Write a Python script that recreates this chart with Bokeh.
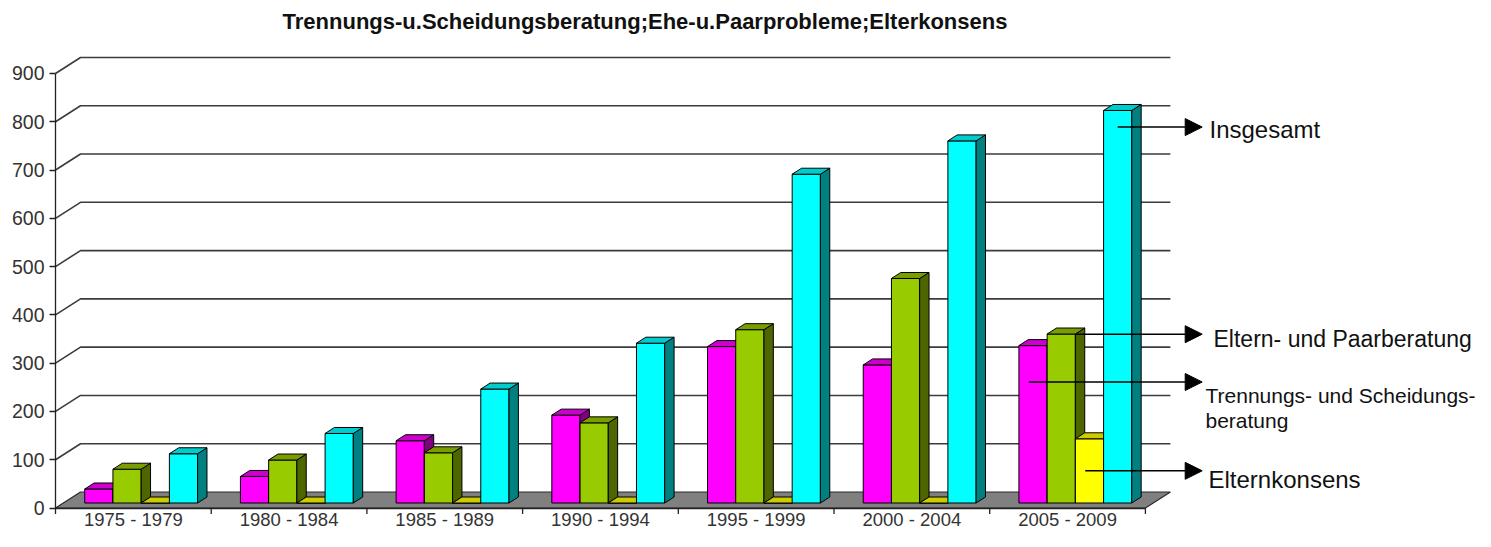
from bokeh.plotting import figure
from bokeh.models import FixedTicker, Label, Arrow, NormalHead, ColumnDataSource, Range1d
from bokeh.core.properties import value
from bokeh.embed import file_html
from bokeh.resources import INLINE

# ---------------- data ----------------
title_text = "Trennungs-u.Scheidungsberatung;Ehe-u.Paarprobleme;Elterkonsens"
periods = ["1975 - 1979", "1980 - 1984", "1985 - 1989", "1990 - 1994",
           "1995 - 1999", "2000 - 2004", "2005 - 2009"]
trennung_scheidung = [29, 55, 129, 182, 324, 286, 326]
eltern_paar = [70, 89, 104, 166, 359, 465, 350]
elternkonsens = [0, 0, 0, 0, 0, 0, 133]
insgesamt = [102, 144, 236, 331, 681, 750, 813]
y_ticks = [0, 100, 200, 300, 400, 500, 600, 700, 800, 900]

ann_texts = ["Insgesamt", "Eltern- und Paarberatung", "Trennungs- und Scheidungs-",
             "beratung", "Elternkonsens"]
ann_text_y = [784, 350, 233, 182, 60]
ann_sizes = ["24px", "23px", "21px", "21px", "24px"]
arrow_series = [3, 1, 0, 2]          # which series each arrow points from
arrow_y = [789, 360, 261, 77]

# ---------------- styles ----------------
series = [trennung_scheidung, eltern_paar, elternkonsens, insgesamt]
front_cols = ["#FF00FF", "#99CC00", "#FFFF00", "#00FFFF"]
top_cols = ["#CC00CC", "#7A9E00", "#CCCC00", "#00CCCC"]
side_cols = ["#800080", "#4D6600", "#808000", "#008080"]

# ---------------- layout (pixels) ----------------
W, H = 1475, 531
X0_PX = 55.0          # canvas x of category axis origin
CAT_PX = 155.7        # pixels per category
Y0_PX = 507.5         # canvas y (from top) of value 0
VAL_PX = 0.4828       # pixels per value unit


def xd(px):
    return (px - X0_PX) / CAT_PX


def yd(py):
    return (Y0_PX - py) / VAL_PX


ncat = len(periods)
DX = 25.0 / CAT_PX     # depth offset of back wall
DY = 16.0 / VAL_PX
D0, D1 = 0.3125, 0.6875
PAD = 0.1375
BW = (1 - 2 * PAD) / len(series)

p = figure(width=W, height=H, output_backend="svg", toolbar_location=None,
           x_range=Range1d(xd(0), xd(W)), y_range=Range1d(yd(H), yd(0)),
           min_border=0)
p.min_border_left = 0
p.min_border_right = 0
p.min_border_top = 0
p.min_border_bottom = 0
p.outline_line_color = None
p.xgrid.visible = False
p.ygrid.visible = False
p.background_fill_color = "white"
p.border_fill_color = "white"

# back wall gridlines + left wall diagonals
gx, gy = [], []
for v in y_ticks[1:]:
    gx.append([0, DX, ncat + DX])
    gy.append([v, v + DY, v + DY])
p.multi_line(gx, gy, line_color="#3c3c3c", line_width=1.6)

# floor
p.patch([0, ncat, ncat + DX, DX], [0, 0, DY, DY], fill_color="#808080",
        line_color="#2a2a2a", line_width=1.2)

# bars (front, side, top faces)
xs, ys, fc = [], [], []
ax, ay = D0 * DX, D0 * DY
bx, by = D1 * DX, D1 * DY
for c in range(ncat):
    for i, vals in enumerate(series):
        v = vals[c]
        x0 = c + PAD + i * BW
        x1 = x0 + BW
        xs.append([x0 + ax, x1 + ax, x1 + ax, x0 + ax])
        ys.append([ay, ay, v + ay, v + ay])
        fc.append(front_cols[i])
        xs.append([x1 + ax, x1 + bx, x1 + bx, x1 + ax])
        ys.append([ay, by, v + by, v + ay])
        fc.append(side_cols[i])
        xs.append([x0 + ax, x1 + ax, x1 + bx, x0 + bx])
        ys.append([v + ay, v + ay, v + by, v + by])
        fc.append(top_cols[i])
p.patches(xs, ys, fill_color=fc, line_color="black", line_width=1)

# category boundary ticks
bounds_x = list(range(ncat + 1))
p.segment(x0=bounds_x, y0=[0] * len(bounds_x), x1=bounds_x,
          y1=[-6.0 / VAL_PX] * len(bounds_x), line_color="#222222", line_width=1.3)

# axes
yax = p.yaxis[0]
yax.fixed_location = 0
yax.bounds = (0, y_ticks[-1])
yax.ticker = FixedTicker(ticks=y_ticks)
yax.major_tick_out = 6
yax.major_tick_in = 0
yax.minor_tick_out = 0
yax.minor_tick_in = 0
yax.axis_line_color = "#222222"
yax.axis_line_width = 1.3
yax.major_tick_line_color = "#222222"
yax.major_tick_line_width = 1.3
yax.major_label_text_font = "Liberation Sans"
yax.major_label_text_font_size = "19.5px"
yax.major_label_text_color = "#333333"
yax.major_label_standoff = 5

xax = p.xaxis[0]
xax.fixed_location = 0
xax.bounds = (0, ncat)
centers = [c + 0.5 for c in range(ncat)]
xax.ticker = FixedTicker(ticks=centers)
xax.major_label_overrides = {c + 0.5: lab for c, lab in enumerate(periods)}
xax.major_tick_out = 0
xax.major_tick_in = 0
xax.major_tick_line_color = None
xax.minor_tick_out = 0
xax.minor_tick_in = 0
xax.minor_tick_line_color = None
xax.axis_line_color = "#222222"
xax.axis_line_width = 1.3
xax.major_label_text_font = "Liberation Sans"
xax.major_label_text_font_size = "18.5px"
xax.major_label_text_color = "#333333"
xax.major_label_standoff = 1

# title
p.add_layout(Label(x=xd(644.5), y=yd(20.7), text=title_text, text_align="center",
                   text_baseline="alphabetic", text_font="Liberation Sans",
                   text_font_size="22px", text_font_style="bold", text_color="#111111"))

# annotation texts
tx = [xd(1209), xd(1213), xd(1205), xd(1205), xd(1208)]
p.text(x=tx, y=ann_text_y, text=ann_texts, text_font=value("Liberation Sans"),
       text_font_size=ann_sizes, text_color="#111111",
       text_baseline="alphabetic", text_align="left")

# arrows
last = ncat - 1
sx = []
for k, s in enumerate(arrow_series):
    left = last + PAD + s * BW + ax
    frac = 1.0 if s == 1 else (0.5 if s == 3 else 0.35)
    sx.append(left + frac * BW)
tip = xd(1201.7)
arr_src = ColumnDataSource(dict(x0=sx, y0=arrow_y, x1=[tip] * len(sx), y1=arrow_y))
p.add_layout(Arrow(source=arr_src, x_start="x0", y_start="y0", x_end="x1", y_end="y1",
                   line_color="black", line_width=1.6,
                   end=NormalHead(size=17, fill_color="black", line_color="black")))

open("out.html", "w").write(file_html(p, INLINE))
